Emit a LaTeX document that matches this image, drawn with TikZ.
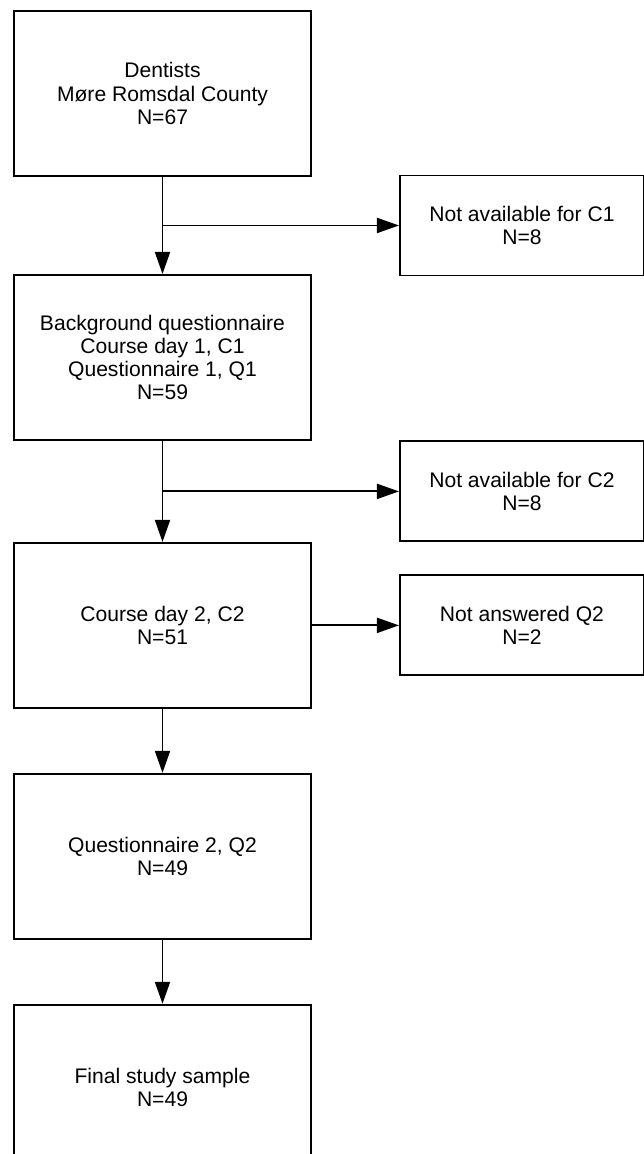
\documentclass[tikz,border=0pt]{standalone}
\usepackage{fontspec}
\setmainfont{Liberation Sans}
\usepackage{tikz}
\usetikzlibrary{positioning, arrows.meta, calc}

\begin{document}
\begin{tikzpicture}[
  font=\fontsize{12}{13.2}\selectfont,
  stage/.style={draw, line width=1.1pt, minimum width=5.94cm, minimum height=3.3cm, align=center},
  drop/.style={draw, line width=1.1pt, minimum width=4.88cm, minimum height=2.0cm, align=center},
  flow/.style={line width=1.1pt, -{Triangle[length=0.44cm, width=0.3cm]}}
]
% page frame
\clip (0,0) rectangle (12.88,-23.08);

% main column
\node[stage] (dent) at (3.25,-1.87) {Dentists\\Møre Romsdal County\\N=67};
\node[stage, below=1.94cm of dent] (bq) {Background questionnaire\\Course day 1, C1\\Questionnaire 1, Q1\\N=59};
\node[stage, below=2.02cm of bq] (cd2) {Course day 2, C2\\N=51};
\node[stage, below=1.28cm of cd2] (q2) {Questionnaire 2, Q2\\N=49};
\node[stage, below=1.28cm of q2] (final) {Final study sample\\N=49};

% drop-outs
\node[drop, right=1.74cm of cd2] (noq2) {Not answered Q2\\N=2};
\coordinate (gap1) at ($(dent.south)!0.5!(bq.north)$);
\coordinate (gap2) at ($(bq.south)!0.5!(cd2.north)$);
\node[drop] (noc1) at (gap1 -| noq2) {Not available for C1\\N=8};
\node[drop] (noc2) at (gap2 -| noq2) {Not available for C2\\N=8};

% arrows
\draw[flow] (dent) -- (bq);
\draw[flow] (bq) -- (cd2);
\draw[flow] (cd2) -- (q2);
\draw[flow] (q2) -- (final);
\draw[flow] (gap1) -- (noc1);
\draw[flow] (gap2) -- (noc2);
\draw[flow] (cd2) -- (noq2);

\end{tikzpicture}
\end{document}
